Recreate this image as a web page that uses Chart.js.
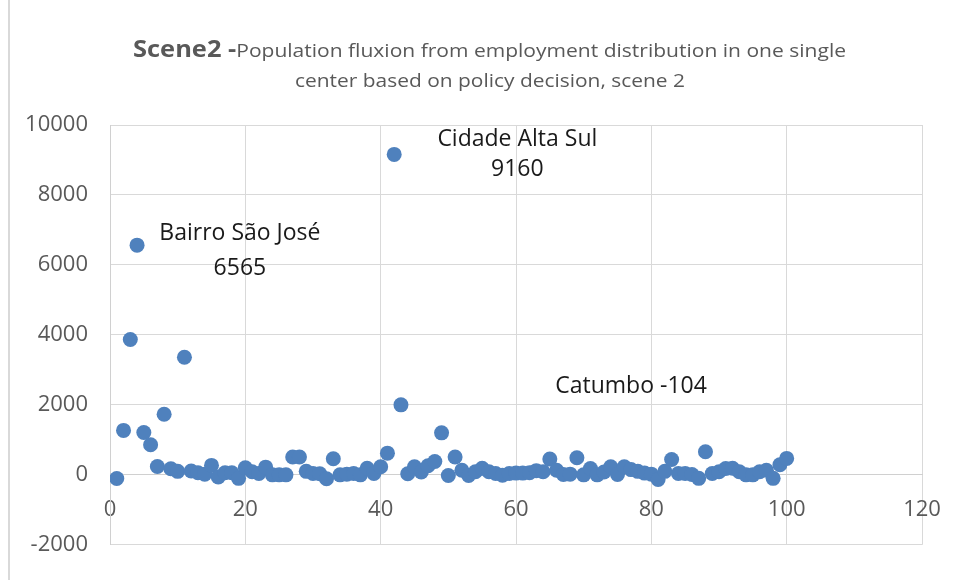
<!DOCTYPE html>
<html>
<head>
<meta charset="utf-8">
<script src="https://cdn.jsdelivr.net/npm/chart.js@4/dist/chart.umd.min.js"></script>
<style>
  body { margin: 0; background: #fff; }
</style>
</head>
<body>
<canvas id="scene-chart" width="958" height="580"></canvas>
<script>
// x = district index, y = population fluxion
const districtIndex = [
  1, 2, 3, 4, 5, 6, 7, 8, 9, 10,
  11, 12, 13, 14, 15, 16, 17, 18, 19, 20,
  21, 22, 23, 24, 25, 26, 27, 28, 29, 30,
  31, 32, 33, 34, 35, 36, 37, 38, 39, 40,
  41, 42, 43, 44, 45, 46, 47, 48, 49, 50,
  51, 52, 53, 54, 55, 56, 57, 58, 59, 60,
  61, 62, 63, 64, 65, 66, 67, 68, 69, 70,
  71, 72, 73, 74, 75, 76, 77, 78, 79, 80,
  81, 82, 83, 84, 85, 86, 87, 88, 89, 90,
  91, 92, 93, 94, 95, 96, 97, 98, 99, 100
];
const fluxion = [
  -104, 1270, 3870, 6565, 1210, 860, 240, 1730, 175, 100,
  3360, 110, 60, 20, 270, -60, 60, 60, -100, 200,
  90, 40, 220, 0, 0, 0, 510, 510, 100, 40,
  30, -110, 460, 0, 20, 40, 0, 190, 40, 230,
  620, 9160, 2000, 30, 230, 80, 260, 380, 1200, -20,
  510, 130, -20, 90, 190, 90, 40, -10, 40, 50,
  50, 60, 120, 90, 450, 130, 10, 20, 490, 0,
  180, 0, 80, 230, 10, 230, 150, 100, 50, 20,
  -130, 100, 440, 40, 40, 10, -100, 660, 40, 90,
  180, 190, 90, 0, 0, 90, 130, -100, 290, 470
];
const xTicks = { min: 0, max: 120, step: 20 };
const yTicks = { min: -2000, max: 10000, step: 2000 };

// data labels dragged away from their points (as in the spreadsheet)
const callouts = [
  { lines: ['Bairro São José', '6565'], x: 19.2, y: [6900, 5900] },
  { lines: ['Cidade Alta Sul', '9160'], x: 60.2, y: [9600, 8720] },
  { lines: ['Catumbo -104'], x: 77, y: [2530] }
];

const points = districtIndex.map((x, i) => ({ x: x, y: fluxion[i] }));

const FONT = '"Open Sans", "DejaVu Sans", sans-serif';

const framePlugin = {
  id: 'frame',
  beforeDraw(chart) {
    const ctx = chart.ctx;
    ctx.save();
    ctx.fillStyle = '#ffffff';
    ctx.fillRect(0, 0, chart.width, chart.height);
    ctx.strokeStyle = '#d9d9d9';
    ctx.lineWidth = 2;
    ctx.beginPath();
    ctx.moveTo(9, 0);
    ctx.lineTo(9, chart.height);
    ctx.stroke();
    ctx.restore();
  }
};

// title with a bold lead-in, squeezed to the width of the original (narrow font)
const titlePlugin = {
  id: 'mixedTitle',
  afterDraw(chart) {
    const ctx = chart.ctx;
    ctx.save();
    ctx.fillStyle = '#595959';
    ctx.textBaseline = 'alphabetic';
    ctx.textAlign = 'left';

    const boldPart = 'Scene2 -';
    const restPart = 'Population fluxion from employment distribution in one single';
    ctx.font = 'bold 23px ' + FONT;
    const wb = ctx.measureText(boldPart).width;
    ctx.font = '19px ' + FONT;
    const wr = ctx.measureText(restPart).width;
    const sx1 = 713 / (wb + wr);
    ctx.save();
    ctx.translate(133, 57);
    ctx.scale(sx1, 1);
    ctx.font = 'bold 23px ' + FONT;
    ctx.fillText(boldPart, 0, 0);
    ctx.font = '19px ' + FONT;
    ctx.fillText(restPart, wb, 0);
    ctx.restore();

    const line2 = 'center based on policy decision, scene 2';
    ctx.font = '19px ' + FONT;
    const w2 = ctx.measureText(line2).width;
    const sx2 = 390 / w2;
    ctx.save();
    ctx.translate(295, 87);
    ctx.scale(sx2, 1);
    ctx.fillText(line2, 0, 0);
    ctx.restore();
    ctx.restore();
  }
};

const calloutPlugin = {
  id: 'callouts',
  afterDatasetsDraw(chart) {
    const ctx = chart.ctx;
    const xs = chart.scales.x;
    const ys = chart.scales.y;
    ctx.save();
    ctx.fillStyle = '#1a1a1a';
    ctx.font = '23px ' + FONT;
    ctx.textAlign = 'center';
    ctx.textBaseline = 'middle';
    callouts.forEach(c => {
      c.lines.forEach((txt, i) => {
        ctx.fillText(txt, xs.getPixelForValue(c.x), ys.getPixelForValue(c.y[i]));
      });
    });
    ctx.restore();
  }
};

new Chart(document.getElementById('scene-chart'), {
  type: 'scatter',
  data: {
    datasets: [{
      label: 'Population fluxion',
      data: points,
      backgroundColor: '#4f81bd',
      borderWidth: 0,
      pointRadius: 7.5,
      pointHoverRadius: 7.5
    }]
  },
  options: {
    responsive: false,
    animation: false,
    devicePixelRatio: 1,
    layout: {
      padding: { top: 125, right: 36, bottom: 33, left: 0 }
    },
    plugins: {
      legend: { display: false },
      title: { display: false },
      tooltip: { enabled: false }
    },
    scales: {
      x: {
        type: 'linear',
        position: { y: 0 },
        min: xTicks.min,
        max: xTicks.max,
        ticks: {
          stepSize: xTicks.step,
          padding: 22,
          color: '#595959',
          font: { family: FONT, size: 22 },
          maxRotation: 0,
          callback: v => String(v)
        },
        grid: { color: '#d9d9d9', drawTicks: false },
        border: { color: '#d0d0d0' },
        afterFit(scale) {
          scale.paddingLeft = 0;
          scale.paddingRight = 0;
        }
      },
      y: {
        min: yTicks.min,
        max: yTicks.max,
        ticks: {
          stepSize: yTicks.step,
          padding: 22,
          color: '#595959',
          font: { family: FONT, size: 22 },
          callback: v => String(v)
        },
        grid: { color: '#d9d9d9', drawTicks: false },
        border: { color: '#d0d0d0' },
        afterFit(scale) { scale.width = 110; }
      }
    }
  },
  plugins: [framePlugin, titlePlugin, calloutPlugin]
});
</script>
</body>
</html>
